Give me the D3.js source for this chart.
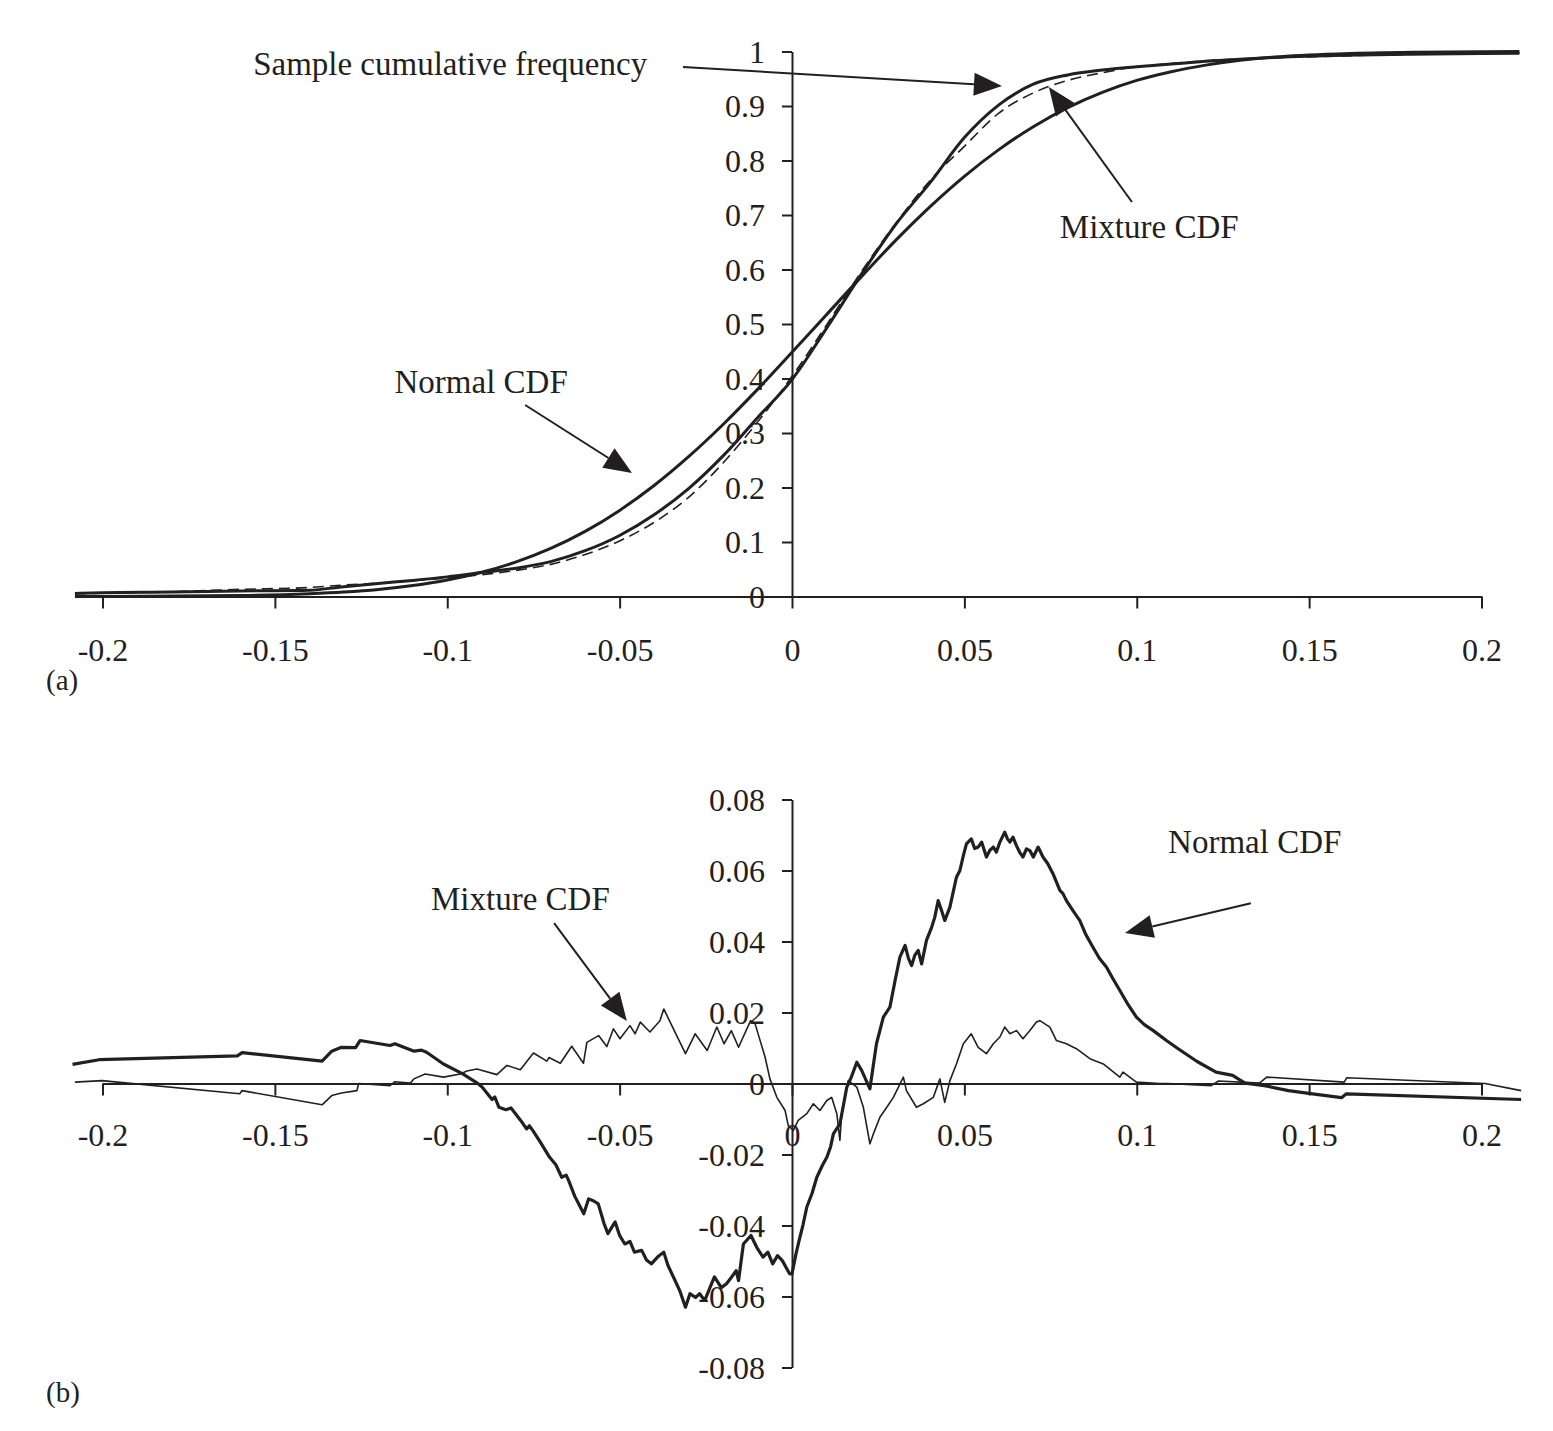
<!DOCTYPE html>
<html>
<head>
<meta charset="utf-8">
<script src="https://cdn.jsdelivr.net/npm/d3@7"></script>
<style>
  html, body { margin: 0; padding: 0; background: #ffffff; }
  svg { display: block; }
</style>
</head>
<body>
<svg id="chart" width="1553" height="1431"></svg>
<script>
// ---------------- DATA ----------------
// Panel (a): cumulative distributions
const cdfX = [-0.208, -0.2, -0.18, -0.16, -0.14, -0.13, -0.12, -0.11, -0.10, -0.09, -0.08, -0.07, -0.06, -0.05,
  -0.04, -0.03, -0.02, -0.01, 0, 0.01, 0.02, 0.03, 0.04, 0.05, 0.06, 0.07, 0.08, 0.09, 0.10, 0.11, 0.12, 0.13,
  0.14, 0.16, 0.18, 0.2, 0.211];
const normalCdf = [0.0001, 0.0002, 0.0009, 0.0017, 0.0050, 0.0082, 0.0130, 0.0202, 0.0303, 0.0444, 0.0634, 0.0881,
  0.1194, 0.158, 0.2036, 0.2565, 0.3156, 0.380, 0.448, 0.517, 0.586, 0.653, 0.715, 0.771, 0.820, 0.862, 0.897,
  0.925, 0.947, 0.963, 0.975, 0.984, 0.990, 0.996, 0.9987, 0.9996, 0.9998];
const sampleCdf = [0.0055, 0.0069, 0.0082, 0.0102, 0.0115, 0.018, 0.024, 0.0295, 0.036, 0.044, 0.052, 0.064,
  0.084, 0.112, 0.150, 0.198, 0.258, 0.328, 0.398, 0.492, 0.590, 0.682, 0.759, 0.842, 0.902, 0.940, 0.957,
  0.966, 0.972, 0.977, 0.982, 0.986, 0.989, 0.993, 0.995, 0.9965, 0.997];
const mixtureCdf = [0.0051, 0.0061, 0.0087, 0.0132, 0.0165, 0.021, 0.0244, 0.029, 0.034, 0.040, 0.048, 0.059,
  0.077, 0.102, 0.136, 0.182, 0.245, 0.320, 0.404, 0.498, 0.595, 0.684, 0.763, 0.826, 0.887, 0.924, 0.947,
  0.961, 0.972, 0.978, 0.983, 0.9865, 0.9885, 0.992, 0.995, 0.9965, 0.997];

// Panel (b): differences (sample cumulative frequency minus CDF)
const diffNormal = [[-0.2087,0.0054],[-0.201,0.0067],[-0.1609,0.0078],[-0.1595,0.0087],[-0.1363,0.0063],
  [-0.1335,0.0091],[-0.1307,0.0102],[-0.1266,0.0101],[-0.1253,0.0121],[-0.1166,0.0107],[-0.1152,0.0112],
  [-0.1096,0.0091],[-0.1075,0.0094],[-0.106,0.0088],[-0.1011,0.0055],[-0.0955,0.0027],[-0.0914,0.0002],
  [-0.0899,-0.001],[-0.087,-0.0045],[-0.0862,-0.0038],[-0.085,-0.0067],[-0.083,-0.0074],[-0.0815,-0.0069],
  [-0.0787,-0.0104],[-0.077,-0.0128],[-0.0762,-0.0119],[-0.0752,-0.0132],[-0.073,-0.0165],[-0.0703,-0.0208],
  [-0.0685,-0.0229],[-0.0668,-0.0264],[-0.0655,-0.0258],[-0.0648,-0.0273],[-0.063,-0.0318],[-0.0604,-0.0367],
  [-0.059,-0.0325],[-0.0575,-0.0331],[-0.0562,-0.0339],[-0.0545,-0.0395],[-0.0534,-0.0423],[-0.0513,-0.039],
  [-0.05,-0.0428],[-0.0485,-0.0452],[-0.047,-0.0445],[-0.0457,-0.0475],[-0.0436,-0.047],[-0.0422,-0.0497],
  [-0.0408,-0.0508],[-0.039,-0.0489],[-0.0372,-0.0475],[-0.036,-0.0512],[-0.0344,-0.0545],[-0.0325,-0.0585],
  [-0.0309,-0.063],[-0.0296,-0.0592],[-0.028,-0.0603],[-0.0268,-0.0592],[-0.0253,-0.0611],[-0.0238,-0.0575],
  [-0.0225,-0.0545],[-0.0205,-0.0575],[-0.019,-0.0564],[-0.0175,-0.0545],[-0.0162,-0.0527],[-0.0155,-0.0555],
  [-0.0141,-0.0452],[-0.0119,-0.0428],[-0.0102,-0.0462],[-0.0084,-0.0489],[-0.007,-0.0475],[-0.0056,-0.0508],
  [-0.0042,-0.0485],[-0.0028,-0.0499],[-0.0007,-0.0536],[0.0,-0.0536],[0.0012,-0.0478],[0.0023,-0.0433],
  [0.0032,-0.0398],[0.0043,-0.0348],[0.0058,-0.031],[0.0072,-0.0264],[0.0088,-0.0231],[0.0101,-0.0208],
  [0.0112,-0.0178],[0.012,-0.0142],[0.0139,-0.0114],[0.0159,-0.001],[0.0172,0.0018],[0.0188,0.006],
  [0.0202,0.0037],[0.0226,-0.0015],[0.0245,0.0112],[0.0265,0.0187],[0.0284,0.0215],[0.0299,0.029],
  [0.0313,0.0356],[0.0328,0.0389],[0.0338,0.0352],[0.0347,0.0332],[0.0356,0.0361],[0.0366,0.0375],
  [0.0376,0.0337],[0.039,0.0403],[0.0405,0.044],[0.0414,0.0468],[0.0424,0.0515],[0.0434,0.0487],
  [0.0443,0.0459],[0.0458,0.0497],[0.0468,0.0541],[0.0477,0.0581],[0.0487,0.06],[0.0497,0.0642],
  [0.0506,0.0675],[0.052,0.0689],[0.053,0.0662],[0.054,0.0666],[0.055,0.068],[0.0564,0.0638],
  [0.0574,0.0657],[0.0584,0.0666],[0.0593,0.0652],[0.0603,0.068],[0.0617,0.0708],[0.0625,0.0689],
  [0.0632,0.068],[0.0641,0.0694],[0.0651,0.067],[0.066,0.0652],[0.067,0.0638],[0.068,0.0661],
  [0.069,0.0656],[0.07,0.0638],[0.0714,0.0666],[0.0728,0.0638],[0.0742,0.0619],[0.0757,0.0591],
  [0.0777,0.0544],[0.0786,0.0535],[0.0796,0.0515],[0.0815,0.0487],[0.0835,0.0459],[0.0852,0.042],
  [0.0873,0.0384],[0.0892,0.0352],[0.0912,0.0328],[0.0931,0.0295],[0.0951,0.0262],[0.0975,0.0222],
  [0.0999,0.0187],[0.1022,0.0166],[0.1048,0.0149],[0.1086,0.0121],[0.112,0.0098],[0.1175,0.0062],
  [0.123,0.0032],[0.1278,0.0023],[0.1314,0.0001],[0.137,-0.0006],[0.144,-0.002],[0.151,-0.0029],
  [0.1594,-0.004],[0.1608,-0.0029],[0.2115,-0.0045]];
const diffMixture = [[-0.208,0.0004],[-0.2002,0.0008],[-0.1602,-0.0029],[-0.1595,-0.002],[-0.1363,-0.006],
  [-0.1335,-0.0034],[-0.1307,-0.0027],[-0.1262,-0.002],[-0.1257,0.0],[-0.1166,-0.0006],[-0.1152,0.0005],
  [-0.1107,0.0001],[-0.1097,0.0013],[-0.1064,0.0027],[-0.1011,0.0018],[-0.0962,0.0027],[-0.0943,0.0035],
  [-0.0914,0.0041],[-0.0856,0.0025],[-0.0827,0.0051],[-0.0788,0.0039],[-0.075,0.0086],[-0.0711,0.0063],
  [-0.0705,0.0073],[-0.0672,0.0057],[-0.0639,0.0105],[-0.0605,0.0057],[-0.0595,0.0116],[-0.0561,0.0135],
  [-0.0537,0.0104],[-0.0518,0.0154],[-0.0499,0.0126],[-0.047,0.0163],[-0.0455,0.014],[-0.044,0.0173],
  [-0.0412,0.0145],[-0.0383,0.0177],[-0.0372,0.021],[-0.0351,0.0168],[-0.0309,0.0084],[-0.0281,0.014],
  [-0.0246,0.0093],[-0.0218,0.0159],[-0.0197,0.0112],[-0.0176,0.0149],[-0.0155,0.0102],[-0.012,0.0177],
  [-0.0107,0.0168],[-0.0078,0.0074],[-0.0064,0.0013],[-0.0044,-0.0039],[-0.002,-0.0076],[-0.0011,-0.0118],
  [0.0004,-0.0132],[0.0018,-0.0104],[0.0043,-0.0085],[0.0062,-0.0057],[0.0081,-0.0076],[0.0101,-0.0048],
  [0.0115,-0.0039],[0.013,-0.0085],[0.0139,-0.016],[0.0144,-0.0085],[0.0163,0.0008],[0.0188,-0.001],
  [0.0207,-0.0067],[0.0226,-0.017],[0.0236,-0.0142],[0.0255,-0.0095],[0.0275,-0.0067],[0.0294,-0.0039],
  [0.0323,0.0018],[0.0332,-0.002],[0.0361,-0.0067],[0.0381,-0.0057],[0.041,-0.0039],[0.0429,0.0013],
  [0.0443,-0.0053],[0.0458,0.0008],[0.0477,0.0055],[0.0497,0.0112],[0.0516,0.0135],[0.052,0.014],
  [0.054,0.0102],[0.0564,0.0084],[0.0584,0.0112],[0.0603,0.0131],[0.0617,0.0159],[0.0632,0.014],
  [0.0651,0.0149],[0.067,0.0126],[0.069,0.0149],[0.0709,0.0173],[0.0719,0.0177],[0.0748,0.0159],
  [0.0767,0.0121],[0.0796,0.0112],[0.0825,0.0098],[0.0864,0.007],[0.0903,0.0055],[0.0951,0.0018],
  [0.096,0.0032],[0.0999,0.0004],[0.1067,0.0],[0.1089,0.0],[0.1216,-0.0006],[0.1237,0.0007],
  [0.1356,0.0001],[0.1377,0.0018],[0.1602,0.0004],[0.1609,0.0016],[0.201,0.0],[0.2115,-0.002]];

// Ticks
const xTicks = [-0.2, -0.15, -0.1, -0.05, 0, 0.05, 0.1, 0.15, 0.2];
const xTickLabels = ["-0.2", "-0.15", "-0.1", "-0.05", "0", "0.05", "0.1", "0.15", "0.2"];
const yTicksA = [0, 0.1, 0.2, 0.3, 0.4, 0.5, 0.6, 0.7, 0.8, 0.9, 1];
const yTickLabelsA = ["0", "0.1", "0.2", "0.3", "0.4", "0.5", "0.6", "0.7", "0.8", "0.9", "1"];
const yTicksB = [-0.08, -0.06, -0.04, -0.02, 0, 0.02, 0.04, 0.06, 0.08];
const yTickLabelsB = ["-0.08", "-0.06", "-0.04", "-0.02", "0", "0.02", "0.04", "0.06", "0.08"];

// Annotations (data coordinates): label text, label anchor, arrow from, arrow tip
const annotationsA = [
  { text: "Sample cumulative frequency", at: [-0.1563, 0.9569], from: [-0.0316, 0.9716], to: [0.0609, 0.9367] },
  { text: "Mixture CDF", at: [0.0777, 0.6578], from: [0.0986, 0.7239], to: [0.0745, 0.9349] },
  { text: "Normal CDF", at: [-0.1153, 0.3734], from: [-0.0774, 0.3514], to: [-0.0464, 0.2266] }
];
const annotationsB = [
  { text: "Normal CDF", at: [0.1091, 0.0649], from: [0.1331, 0.0508], to: [0.0966, 0.0424] },
  { text: "Mixture CDF", at: [-0.1047, 0.0489], from: [-0.069, 0.0452], to: [-0.0479, 0.0176] }
];

// ---------------- DRAWING ----------------
const INK = "#231f20";
const FONT = "'Liberation Serif', 'Times New Roman', Times, serif";
const svg = d3.select("#chart");
svg.append("rect").attr("width", 1553).attr("height", 1431).attr("fill", "#ffffff");

const x = d3.scaleLinear().domain([-0.2, 0.2]).range([102.5, 1481.5]);
const ya = d3.scaleLinear().domain([0, 1]).range([596.5, 51.5]);
const yb = d3.scaleLinear().domain([-0.08, 0.08]).range([1367.5, 799.5]);

function drawAxes(yScale, yTicks, yLabels, xLabelOffset) {
  const g = svg.append("g");
  const xAxis = d3.axisBottom(x).tickValues(xTicks).tickFormat((d, i) => xTickLabels[i])
    .tickSize(12).tickSizeOuter(0);
  const gx = g.append("g").attr("transform", `translate(0,${yScale(0)})`).call(xAxis);
  gx.selectAll("text").attr("y", xLabelOffset).attr("dy", 0);
  const yAxis = d3.axisLeft(yScale).tickValues(yTicks).tickFormat((d, i) => yLabels[i])
    .tickSize(10).tickSizeOuter(0).tickPadding(17);
  const gy = g.append("g").attr("transform", `translate(${x(0)},0)`).call(yAxis);
  gy.selectAll("text").attr("dy", "0.33em");
  g.selectAll(".domain, .tick line").attr("stroke", INK).attr("stroke-width", 2);
  g.selectAll("text").attr("fill", INK).style("font-family", FONT).style("font-size", "32px");
  g.selectAll("g").attr("font-family", null).attr("font-size", null);
}

drawAxes(ya, yTicksA, yTickLabelsA, 64);
drawAxes(yb, yTicksB, yTickLabelsB, 62);

// Panel (a) lines
const cdfLine = (vals) => d3.line()
  .x((d, i) => x(cdfX[i]))
  .y((d) => ya(d))
  .curve(d3.curveMonotoneX)(vals);

svg.append("path").attr("d", cdfLine(normalCdf))
  .attr("fill", "none").attr("stroke", INK).attr("stroke-width", 3);
svg.append("path").attr("d", cdfLine(mixtureCdf))
  .attr("fill", "none").attr("stroke", INK).attr("stroke-width", 1.6).attr("stroke-dasharray", "11,6");
svg.append("path").attr("d", cdfLine(sampleCdf))
  .attr("fill", "none").attr("stroke", INK).attr("stroke-width", 3);

// Panel (b) lines
const diffLine = d3.line().x(d => x(d[0])).y(d => yb(d[1]));
svg.append("path").attr("d", diffLine(diffMixture))
  .attr("fill", "none").attr("stroke", INK).attr("stroke-width", 1.6).attr("stroke-linejoin", "round");
svg.append("path").attr("d", diffLine(diffNormal))
  .attr("fill", "none").attr("stroke", INK).attr("stroke-width", 3.2).attr("stroke-linejoin", "round");

// Annotations
function drawAnnotations(list, yScale) {
  list.forEach(a => {
    const x0 = x(a.from[0]), y0 = yScale(a.from[1]);
    const x1 = x(a.to[0]), y1 = yScale(a.to[1]);
    const dx = x1 - x0, dy = y1 - y0, len = Math.hypot(dx, dy);
    const ux = dx / len, uy = dy / len;
    const headLen = 28, headHalf = 11.5;
    const bx = x1 - ux * headLen, by = y1 - uy * headLen;
    svg.append("line").attr("x1", x0).attr("y1", y0).attr("x2", bx).attr("y2", by)
      .attr("stroke", INK).attr("stroke-width", 2);
    svg.append("path")
      .attr("d", `M${x1},${y1}L${bx - uy * headHalf},${by + ux * headHalf}L${bx + uy * headHalf},${by - ux * headHalf}Z`)
      .attr("fill", INK);
    svg.append("text").attr("x", x(a.at[0])).attr("y", yScale(a.at[1]))
      .attr("fill", INK).style("font-family", FONT).style("font-size", "33px").text(a.text);
  });
}
drawAnnotations(annotationsA, ya);
drawAnnotations(annotationsB, yb);

// Panel letters
svg.append("text").attr("x", 46).attr("y", 690).attr("fill", INK)
  .style("font-family", FONT).style("font-size", "29px").text("(a)");
svg.append("text").attr("x", 46).attr("y", 1402).attr("fill", INK)
  .style("font-family", FONT).style("font-size", "29px").text("(b)");
</script>
</body>
</html>
